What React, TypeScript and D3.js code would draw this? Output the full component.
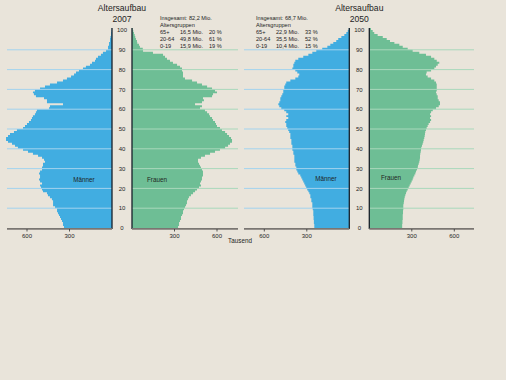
import React from "react";
import * as d3 from "d3";

// Population by single year of age (0..100), in thousands
const male2007 = [
  339, 346, 346, 353, 360, 367, 374, 381, 388, 388,
  402, 416, 416, 416, 424, 438, 452, 459, 487, 494,
  501, 508, 494, 508, 515, 508, 508, 515, 508, 494,
  494, 487, 487, 473, 480, 494, 522, 558, 593, 628,
  664, 685, 706, 734, 748, 748, 734, 720, 692, 671,
  628, 614, 600, 586, 572, 565, 558, 544, 537, 530,
  445, 438, 346, 459, 459, 480, 537, 551, 558, 544,
  508, 473, 438, 388, 346, 318, 289, 268, 254, 233,
  205, 184, 155, 141, 120, 113, 99, 78, 64, 42,
  28, 28, 21, 21, 14, 14, 11, 7, 7, 4,
  2,
];
const female2007 = [
  325, 332, 332, 339, 346, 346, 353, 360, 360, 367,
  374, 381, 388, 388, 395, 402, 416, 431, 445, 459,
  473, 487, 480, 487, 494, 494, 501, 501, 501, 494,
  487, 480, 473, 466, 466, 487, 515, 551, 586, 621,
  657, 678, 692, 706, 706, 699, 685, 671, 657, 635,
  621, 600, 593, 586, 572, 565, 551, 544, 530, 515,
  480, 494, 445, 494, 508, 501, 565, 572, 600, 586,
  565, 530, 494, 459, 424, 374, 360, 360, 360, 353,
  353, 339, 318, 289, 268, 247, 233, 219, 148, 78,
  76, 56, 49, 37, 35, 28, 23, 19, 14, 9,
  5,
];
const male2050 = [
  247, 247, 250, 250, 252, 252, 254, 254, 254, 258,
  261, 261, 261, 268, 268, 275, 275, 282, 289, 297,
  304, 311, 318, 325, 332, 339, 346, 360, 367, 374,
  374, 381, 381, 388, 388, 388, 388, 395, 395, 402,
  402, 402, 409, 409, 409, 416, 416, 416, 424, 431,
  438, 445, 445, 452, 445, 431, 445, 431, 445, 459,
  480, 494, 501, 494, 487, 487, 480, 473, 466, 466,
  459, 459, 452, 445, 416, 381, 360, 353, 367, 381,
  402, 395, 395, 388, 381, 360, 325, 289, 261, 233,
  191, 155, 134, 113, 92, 78, 56, 35, 21, 11,
  4,
];
const female2050 = [
  232, 232, 234, 234, 236, 236, 236, 238, 238, 240,
  240, 240, 243, 245, 247, 250, 254, 259, 264, 271,
  278, 285, 292, 299, 306, 311, 318, 325, 330, 337,
  342, 344, 349, 353, 356, 358, 358, 360, 363, 365,
  367, 372, 377, 381, 384, 388, 391, 393, 395, 400,
  405, 412, 419, 429, 436, 429, 436, 429, 436, 448,
  471, 490, 499, 499, 490, 483, 483, 476, 471, 476,
  476, 476, 476, 471, 459, 436, 412, 400, 405, 436,
  459, 471, 483, 494, 476, 459, 436, 400, 353, 306,
  271, 236, 212, 177, 146, 123, 95, 59, 35, 24,
  12,
];

const ageTicks = [0, 10, 20, 30, 40, 50, 60, 70, 80, 90, 100];
const gridAges = [10, 20, 30, 40, 50, 60, 70, 80, 90];
const valueTicks = [300, 600];

const legendRows2007 = [
  ["65+", "16,5 Mio.", "20 %"],
  ["20-64", "49,8 Mio.", "61 %"],
  ["0-19", "15,9 Mio.", "19 %"],
];
const legendRows2050 = [
  ["65+", "22,9 Mio.", "33 %"],
  ["20-64", "35,5 Mio.", "52 %"],
  ["0-19", "10,4 Mio.", "15 %"],
];

const BG = "#e9e4da";
const BLUE = "#41ade1";
const GREEN = "#6ebe95";
const FONT = "'Liberation Sans', Arial, sans-serif";
const TXT = "#1e1e1e";

const y = d3.scaleLinear().domain([0, 100]).range([228, 30]);
const PX_PER_300 = 42.5;

type Pt = { y: number; x: number };

function stepPoints(values: number[], xs: d3.ScaleLinear<number, number>): Pt[] {
  const pts: Pt[] = [];
  values.forEach((v, a) => {
    pts.push({ y: y(a), x: xs(v) });
    pts.push({ y: y(a + 1), x: xs(v) });
  });
  return pts;
}

type PanelProps = {
  title: string;
  male: number[];
  female: number[];
  maleAxis: number;
  femaleAxis: number;
  maleLeft: number;
  femaleRight: number;
  total: string;
  rows: string[][];
  legendX: number;
  maleLabel: [number, number];
  femaleLabel: [number, number];
};

function Panel(p: PanelProps) {
  const xm = d3.scaleLinear().domain([0, 300]).range([p.maleAxis, p.maleAxis - PX_PER_300]);
  const xf = d3.scaleLinear().domain([0, 300]).range([p.femaleAxis, p.femaleAxis + PX_PER_300]);
  const mid = (p.maleAxis + p.femaleAxis) / 2;
  const areaM = d3
    .area<Pt>()
    .y((d) => d.y)
    .x0(p.maleAxis)
    .x1((d) => d.x);
  const areaF = d3
    .area<Pt>()
    .y((d) => d.y)
    .x0(p.femaleAxis)
    .x1((d) => d.x);
  return (
    <g>
      <text x={mid} y={11} textAnchor="middle" fontSize={8.6} fill={TXT}>Altersaufbau</text>
      <text x={mid} y={22} textAnchor="middle" fontSize={8.6} fill={TXT}>{p.title}</text>
      {/* bars */}
      <path d={areaM(stepPoints(p.male, xm)) || ""} fill={BLUE} />
      <path d={areaF(stepPoints(p.female, xf)) || ""} fill={GREEN} />
      {/* grid lines */}
      {gridAges.map((a) => (
        <g key={"g" + a}>
          <line x1={p.maleLeft} x2={p.maleAxis} y1={y(a)} y2={y(a)} stroke="#a3d3ee" strokeWidth={1} />
          <line x1={p.femaleAxis} x2={p.femaleRight} y1={y(a)} y2={y(a)} stroke="#a9d8bb" strokeWidth={1} />
        </g>
      ))}
      {/* vertical axes */}
      <line x1={p.maleAxis} x2={p.maleAxis} y1={28} y2={229} stroke="#17202a" strokeWidth={1.3} />
      <line x1={p.femaleAxis} x2={p.femaleAxis} y1={28} y2={229} stroke="#17202a" strokeWidth={1.3} />
      {/* bottom axes */}
      <line x1={p.maleLeft} x2={p.maleAxis} y1={228.8} y2={228.8} stroke="#7a7672" strokeWidth={1.8} />
      <line x1={p.femaleAxis} x2={p.femaleRight} y1={228.8} y2={228.8} stroke="#7a7672" strokeWidth={1.8} />
      {valueTicks.map((t) => (
        <g key={"t" + t}>
          <line x1={xm(t)} x2={xm(t)} y1={229} y2={231.5} stroke="#333" strokeWidth={0.8} />
          <text x={xm(t)} y={238} textAnchor="middle" fontSize={6} fill={TXT}>{t}</text>
          <line x1={xf(t)} x2={xf(t)} y1={229} y2={231.5} stroke="#333" strokeWidth={0.8} />
          <text x={xf(t)} y={238} textAnchor="middle" fontSize={6} fill={TXT}>{t}</text>
        </g>
      ))}
      {/* age labels */}
      {ageTicks.map((a) => (
        <text key={"a" + a} x={mid} y={y(a) + 2.1} textAnchor="middle" fontSize={6} fill={TXT}>{a}</text>
      ))}
      {/* legend */}
      <text x={p.legendX} y={19.5} fontSize={5.6} fill={TXT}>{p.total}</text>
      <text x={p.legendX} y={27} fontSize={5.6} fill={TXT}>Altersgruppen</text>
      {p.rows.map((r, i) => (
        <g key={"l" + i}>
          <text x={p.legendX} y={34 + i * 7} fontSize={5.6} fill={TXT}>{r[0]}</text>
          <text x={p.legendX + 20} y={34 + i * 7} fontSize={5.6} fill={TXT}>{r[1]}</text>
          <text x={p.legendX + 49} y={34 + i * 7} fontSize={5.6} fill={TXT}>{r[2]}</text>
        </g>
      ))}
      <text x={p.maleLabel[0]} y={p.maleLabel[1]} textAnchor="middle" fontSize={6.3} fill={TXT}>Männer</text>
      <text x={p.femaleLabel[0]} y={p.femaleLabel[1]} textAnchor="middle" fontSize={6.3} fill={TXT}>Frauen</text>
    </g>
  );
}

export default function App() {
  return (
    <svg
      width={506}
      height={380}
      style={{ position: "absolute", left: 0, top: 0, display: "block" }}
      fontFamily={FONT}
    >
      <rect x={0} y={0} width={506} height={380} fill={BG} />
      <Panel
        title="2007"
        male={male2007}
        female={female2007}
        maleAxis={112}
        femaleAxis={132}
        maleLeft={7}
        femaleRight={238}
        total="Insgesamt: 82,2 Mio."
        rows={legendRows2007}
        legendX={160}
        maleLabel={[84, 182]}
        femaleLabel={[157, 182]}
      />
      <Panel
        title="2050"
        male={male2050}
        female={female2050}
        maleAxis={349.3}
        femaleAxis={369.3}
        maleLeft={244}
        femaleRight={474}
        total="Insgesamt: 68,7 Mio."
        rows={legendRows2050}
        legendX={256}
        maleLabel={[326, 181]}
        femaleLabel={[391, 180]}
      />
      <text x={240} y={243} textAnchor="middle" fontSize={6.3} fill={TXT}>Tausend</text>
    </svg>
  );
}
